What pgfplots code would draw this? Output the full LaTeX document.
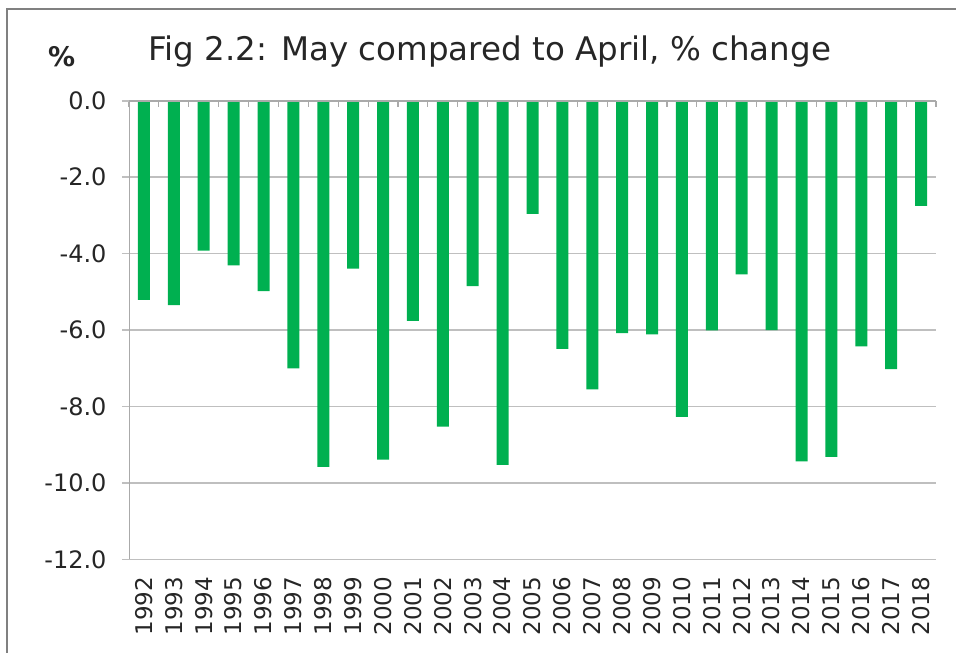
\documentclass[border=0pt]{standalone}
\usepackage{fontspec}
\setmainfont{DejaVu Sans}
\usepackage{pgfplots}
\pgfplotsset{compat=1.18}
\definecolor{bargreen}{RGB}{0,176,80}
\definecolor{gridgray}{RGB}{191,191,191}
\definecolor{axisgray}{RGB}{170,170,170}
\definecolor{framegray}{RGB}{128,128,128}
\begin{document}
\begin{tikzpicture}
\path[use as bounding box] (0bp,0bp) rectangle (956bp,653bp);
\draw[framegray, line width=2bp] (7bp,-5bp) -- (7bp,644bp) -- (962bp,644bp);
\node[anchor=base west, font=\fontsize{32.5bp}{38bp}\selectfont, text=black!85] at (145bp,592bp) {Fig 2.2: May compared to April, \% change};
\node[anchor=base west, font=\bfseries\fontsize{27bp}{31bp}\selectfont, inner sep=0pt, text=black!85] at (48bp,586bp) {\%};
\begin{axis}[
  scale only axis, width=807bp, height=458.5bp,
  at={(129bp,93.7bp)}, anchor=south west,
  xmin=-0.5, xmax=26.5, ymin=-12, ymax=0,
  axis line style={draw=none},
  ytick={-12,-10,...,0},
  ymajorgrids, grid style={gridgray, line width=1.5bp},
  tick align=outside,
  major tick length=7bp,
  minor tick length=-6bp,
  ytick pos=left,
  xtick pos=right,
  xticklabel pos=left,
  xtick={0,...,26},
  minor xtick={-0.5,0.5,...,26.5},
  major x tick style={draw=none},
  minor x tick style={axisgray, line width=1.2bp},
  major y tick style={gridgray, line width=1.5bp},
  xticklabels={1992,1993,1994,1995,1996,1997,1998,1999,2000,2001,2002,2003,2004,2005,2006,2007,2008,2009,2010,2011,2012,2013,2014,2015,2016,2017,2018},
  xticklabel shift=7bp,
  yticklabel shift=12bp,
  xticklabel style={rotate=90, anchor=east, font=\fontsize{23bp}{27bp}\selectfont, text=black!85},
  yticklabel style={font=\fontsize{24bp}{28bp}\selectfont, text=black!85},
  /pgf/number format/assume math mode=true,
  yticklabel={\pgfmathprintnumber[fixed, fixed zerofill, precision=1]{\tick}},
  ybar, bar width=12bp,
]
\addplot[fill=bargreen, draw=none] coordinates {
(0,-5.21) (1,-5.35) (2,-3.92) (3,-4.31) (4,-4.98) (5,-7.00) (6,-9.58) (7,-4.39) (8,-9.39) (9,-5.76)
(10,-8.53) (11,-4.85) (12,-9.53) (13,-2.96) (14,-6.49) (15,-7.55) (16,-6.08) (17,-6.11) (18,-8.27) (19,-6.01)
(20,-4.54) (21,-6.00) (22,-9.44) (23,-9.32) (24,-6.43) (25,-7.02) (26,-2.75)};
\draw[axisgray, line width=1.5bp] (rel axis cs:0,0) -- (rel axis cs:0,1) -- (rel axis cs:1,1);
\end{axis}
\end{tikzpicture}
\end{document}
